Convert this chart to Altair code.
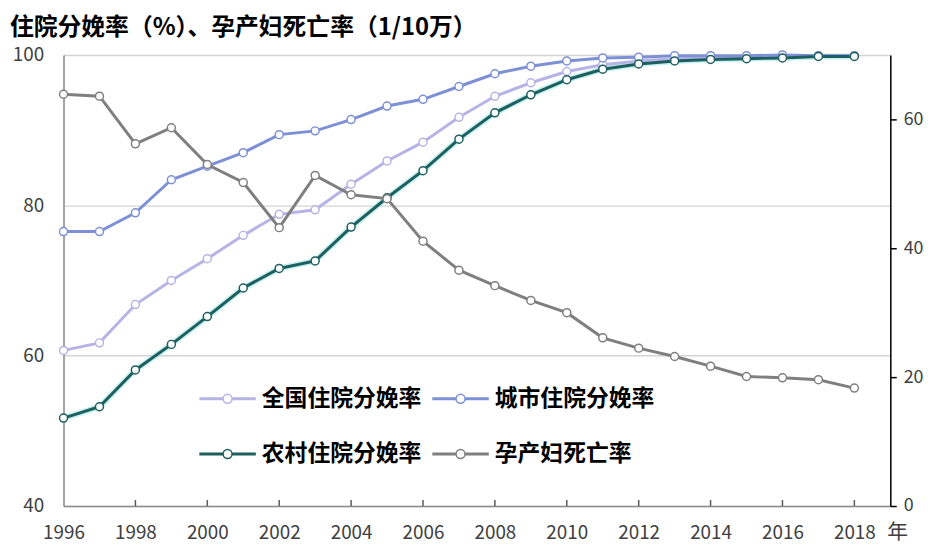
import altair as alt
import pandas as pd

FONT = "Noto Sans CJK SC"

years = list(range(1996, 2019))
national = [60.7, 61.7, 66.8, 70.0, 72.9, 76.0, 78.8, 79.4, 82.8, 85.9, 88.4, 91.7,
            94.5, 96.3, 97.8, 98.7, 99.2, 99.5, 99.6, 99.7, 99.8, 99.9, 99.9]
urban = [76.5, 76.5, 79.0, 83.4, 85.2, 87.0, 89.4, 89.9, 91.4, 93.2, 94.1, 95.8,
         97.5, 98.5, 99.2, 99.6, 99.7, 99.9, 99.9, 99.9, 100.0, 99.9, 99.9]
rural = [51.7, 53.2, 58.1, 61.5, 65.2, 69.0, 71.6, 72.6, 77.1, 81.0, 84.6, 88.8,
         92.3, 94.7, 96.7, 98.1, 98.8, 99.2, 99.4, 99.5, 99.6, 99.8, 99.8]
mortality = [63.9, 63.6, 56.2, 58.7, 53.0, 50.2, 43.2, 51.3, 48.3, 47.7, 41.1, 36.6,
             34.2, 31.9, 30.0, 26.1, 24.5, 23.2, 21.7, 20.1, 19.9, 19.6, 18.3]

series_names = ["全国住院分娩率", "城市住院分娩率", "农村住院分娩率", "孕产妇死亡率"]
series_colors = ["#b6b4e6", "#7d90d6", "#1e5e5e", "#7f7f7f"]

x_ticks = list(range(1996, 2019, 2))
inner_ticks = list(range(1998, 2019, 2))
left_ticks = [40, 60, 80, 100]
right_ticks = [0, 20, 40, 60]

title_text = "住院分娩率（%）、孕产妇死亡率（1/10万）"

rates = pd.DataFrame({
    "year": years * 3,
    "value": national + urban + rural,
    "series": [series_names[0]] * len(years) + [series_names[1]] * len(years) + [series_names[2]] * len(years),
})
mort = pd.DataFrame({"year": years, "value": mortality, "series": series_names[3]})
tick_df = pd.DataFrame({"year": inner_ticks})

# legend symbol: thick line (three thin strokes) interrupted by a small circle
r = 0.17
L = 1.075
lines = "".join(
    f"M-{L},{dy}L-{r},{dy}M{r},{dy}L{L},{dy}" for dy in (-0.03, 0, 0.03)
)
circle = f"M{r},0A{r},{r},0,1,1,-{r},0A{r},{r},0,1,1,{r},0Z"
sym_path = lines + circle

color_scale = alt.Scale(domain=series_names, range=series_colors)
legend = alt.Legend(
    title=None, orient="none", legendX=138, legendY=319, columns=2,
    direction="horizontal",
    symbolType=sym_path, symbolSize=53 * 53, symbolStrokeWidth=1.5,
    symbolFillColor="white", labelFontSize=23, labelFontWeight="bold",
    labelColor="black", labelFont=FONT, labelOffset=7, columnPadding=8,
    rowPadding=16, padding=0, labelLimit=400,
)

x_enc = alt.X(
    "year:Q",
    scale=alt.Scale(domain=[1996, 2019], nice=False),
    axis=alt.Axis(
        values=x_ticks, format="d", labelFlush=False, ticks=False, grid=False,
        domainColor="#8c8c8c", domainWidth=1.5, labelFontSize=19, labelColor="#404040",
        labelFont=FONT, labelPadding=18, title="年", titleX=841, titleY=27,
        titleAngle=0, titleAlign="center", titleBaseline="middle", titleFontSize=21,
        titleFontWeight="normal", titleColor="#404040", titleFont=FONT,
    ),
)

y_left = alt.Y(
    "value:Q",
    scale=alt.Scale(domain=[40, 100], nice=False),
    axis=alt.Axis(
        values=left_ticks, title=None, grid=True, gridColor="#d4d4d4", gridWidth=1.5,
        ticks=False, domainColor="#8c8c8c", domainWidth=1.5, labelFontSize=19,
        labelColor="#404040", labelFont=FONT, labelPadding=20,
    ),
)

y_right = alt.Y(
    "value:Q",
    scale=alt.Scale(domain=[0, 70], nice=False),
    axis=alt.Axis(
        orient="right", values=right_ticks, title=None, grid=False,
        domainColor="black", domainWidth=1.5, tickColor="black", tickSize=6,
        tickWidth=1.5, labelFontSize=18, labelColor="#404040", labelFont=FONT,
        labelPadding=7,
    ),
)

base_rates = alt.Chart(rates)

glow = base_rates.transform_filter(
    alt.datum.series == series_names[2]
).mark_line(color="#9fe6e6", strokeWidth=6, opacity=0.6).encode(x=x_enc, y=y_left)

rate_lines = base_rates.mark_line(strokeWidth=3).encode(
    x=x_enc, y=y_left,
    color=alt.Color("series:N", scale=color_scale, legend=legend, sort=series_names),
    detail="series:N",
)
rate_points = base_rates.mark_point(
    shape="circle", filled=False, fill="white", fillOpacity=1, size=65,
    strokeWidth=1.5, opacity=1,
).encode(
    x=x_enc, y=y_left,
    color=alt.Color("series:N", scale=color_scale, legend=legend, sort=series_names),
)

ticks = alt.Chart(tick_df).mark_rule(color="#595959", strokeWidth=1.5).encode(
    x=x_enc, y=alt.value(449), y2=alt.value(455)
)

left = alt.layer(glow, rate_lines, rate_points, ticks)

base_mort = alt.Chart(mort)
mort_line = base_mort.mark_line(strokeWidth=3).encode(
    x=x_enc, y=y_right,
    color=alt.Color("series:N", scale=color_scale, legend=legend, sort=series_names),
)
mort_points = base_mort.mark_point(
    shape="circle", filled=False, fill="white", fillOpacity=1, size=65,
    strokeWidth=1.5, opacity=1,
).encode(
    x=x_enc, y=y_right,
    color=alt.Color("series:N", scale=color_scale, legend=legend, sort=series_names),
)
right = alt.layer(mort_line, mort_points)

chart = alt.layer(left, right).resolve_scale(y="independent").properties(
    width=834, height=455,
    autosize=alt.AutoSizeParams(type="none"),
    padding={"left": 56, "top": 45, "right": 36, "bottom": 39},
    title=alt.TitleParams(
        text=title_text, anchor="start", frame="group", dx=-54, fontSize=24,
        fontWeight="bold", font=FONT, color="black", offset=5,
    ),
).configure_view(stroke="#7f7f7f", strokeWidth=1.5).configure(background="white")

chart.save("out.html", embed_options={"renderer": "svg", "actions": False})
